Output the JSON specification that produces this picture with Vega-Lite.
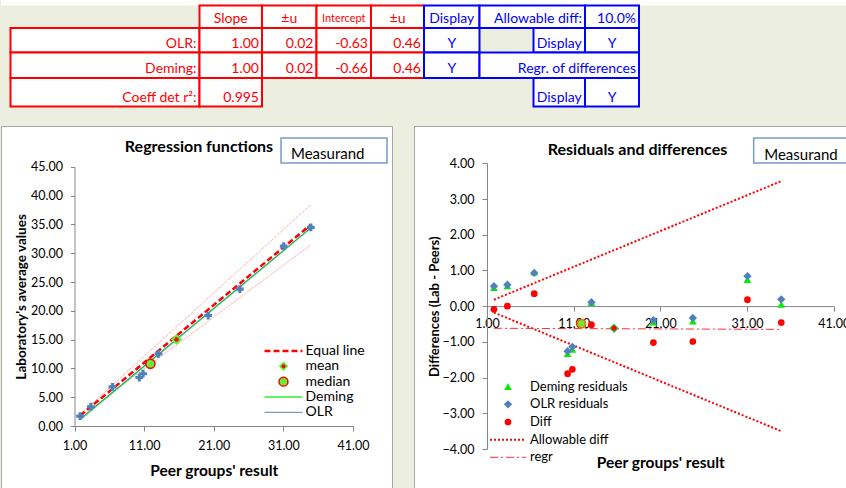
{
  "$schema": "https://vega.github.io/schema/vega-lite/v6.json",
  "background": "#ECEFE0",
  "padding": 0,
  "bounds": "flush",
  "spacing": 0,
  "config": {
    "font": "Lato",
    "view": {"stroke": null},
    "axis": {"labelFont": "Lato", "titleFont": "Lato"},
    "title": {"font": "Lato"},
    "text": {"font": "Lato"}
  },
  "datasets": {
    "strip": [{"c0": 0, "c1": 11, "r0": 0, "r1": 1}],
    "cells": [
      {"c0": 2, "c1": 3, "r0": 1, "r1": 2, "part": "regression"},
      {"c0": 3, "c1": 4, "r0": 1, "r1": 2, "part": "regression"},
      {"c0": 4, "c1": 5, "r0": 1, "r1": 2, "part": "regression"},
      {"c0": 5, "c1": 6, "r0": 1, "r1": 2, "part": "regression"},
      {"c0": 1, "c1": 2, "r0": 2, "r1": 3, "part": "regression"},
      {"c0": 2, "c1": 3, "r0": 2, "r1": 3, "part": "regression"},
      {"c0": 3, "c1": 4, "r0": 2, "r1": 3, "part": "regression"},
      {"c0": 4, "c1": 5, "r0": 2, "r1": 3, "part": "regression"},
      {"c0": 5, "c1": 6, "r0": 2, "r1": 3, "part": "regression"},
      {"c0": 1, "c1": 2, "r0": 3, "r1": 4, "part": "regression"},
      {"c0": 2, "c1": 3, "r0": 3, "r1": 4, "part": "regression"},
      {"c0": 3, "c1": 4, "r0": 3, "r1": 4, "part": "regression"},
      {"c0": 4, "c1": 5, "r0": 3, "r1": 4, "part": "regression"},
      {"c0": 5, "c1": 6, "r0": 3, "r1": 4, "part": "regression"},
      {"c0": 1, "c1": 2, "r0": 4, "r1": 5, "part": "regression"},
      {"c0": 2, "c1": 3, "r0": 4, "r1": 5, "part": "regression"},
      {"c0": 6, "c1": 7, "r0": 1, "r1": 2, "part": "display"},
      {"c0": 7, "c1": 9, "r0": 1, "r1": 2, "part": "display"},
      {"c0": 9, "c1": 10, "r0": 1, "r1": 2, "part": "display"},
      {"c0": 6, "c1": 7, "r0": 2, "r1": 3, "part": "display"},
      {"c0": 8, "c1": 9, "r0": 2, "r1": 3, "part": "display"},
      {"c0": 9, "c1": 10, "r0": 2, "r1": 3, "part": "display"},
      {"c0": 6, "c1": 7, "r0": 3, "r1": 4, "part": "display"},
      {"c0": 7, "c1": 10, "r0": 3, "r1": 4, "part": "display"},
      {"c0": 8, "c1": 9, "r0": 4, "r1": 5, "part": "display"},
      {"c0": 9, "c1": 10, "r0": 4, "r1": 5, "part": "display"}
    ],
    "textCenter": [
      {"t": "Slope", "c": 2.5, "r": 2, "part": "regression"},
      {"t": "±u", "c": 3.5, "r": 2, "part": "regression"},
      {"t": "±u", "c": 5.5, "r": 2, "part": "regression"},
      {"t": "Display", "c": 6.5, "r": 2, "part": "display"},
      {"t": "Y", "c": 6.5, "r": 3, "part": "display"},
      {"t": "Display", "c": 8.5, "r": 3, "part": "display"},
      {"t": "Y", "c": 9.5, "r": 3, "part": "display"},
      {"t": "Y", "c": 6.5, "r": 4, "part": "display"},
      {"t": "Display", "c": 8.5, "r": 5, "part": "display"},
      {"t": "Y", "c": 9.5, "r": 5, "part": "display"}
    ],
    "textSmall": [
      {"t": "Intercept", "c": 4.5, "r": 2, "part": "regression"}
    ],
    "textRight": [
      {"t": "OLR:", "c": 2, "r": 3, "part": "regression"},
      {"t": "1.00", "c": 3, "r": 3, "part": "regression"},
      {"t": "0.02", "c": 4, "r": 3, "part": "regression"},
      {"t": "-0.63", "c": 5, "r": 3, "part": "regression"},
      {"t": "0.46", "c": 6, "r": 3, "part": "regression"},
      {"t": "Deming:", "c": 2, "r": 4, "part": "regression"},
      {"t": "1.00", "c": 3, "r": 4, "part": "regression"},
      {"t": "0.02", "c": 4, "r": 4, "part": "regression"},
      {"t": "-0.66", "c": 5, "r": 4, "part": "regression"},
      {"t": "0.46", "c": 6, "r": 4, "part": "regression"},
      {"t": "Coeff det r²:", "c": 2, "r": 5, "part": "regression"},
      {"t": "0.995", "c": 3, "r": 5, "part": "regression"},
      {"t": "Allowable diff:", "c": 9, "r": 2, "part": "display"},
      {"t": "10.0%", "c": 10, "r": 2, "part": "display"},
      {"t": "Regr. of differences", "c": 10, "r": 4, "part": "display"}
    ],
    "obs": [
      {"peer": 1.8, "lab": 1.71, "diff": -0.09, "olr": 0.56, "deming": 0.52},
      {"peer": 3.35, "lab": 3.35, "diff": 0.0, "olr": 0.6, "deming": 0.57},
      {"peer": 6.45, "lab": 6.8, "diff": 0.35, "olr": 0.93, "deming": 0.95},
      {"peer": 10.3, "lab": 8.41, "diff": -1.89, "olr": -1.26, "deming": -1.33},
      {"peer": 10.85, "lab": 9.08, "diff": -1.77, "olr": -1.14, "deming": -1.21},
      {"peer": 13.05, "lab": 12.53, "diff": -0.52, "olr": 0.11, "deming": 0.1},
      {"peer": 20.2, "lab": 19.18, "diff": -1.02, "olr": -0.39, "deming": -0.45},
      {"peer": 24.75, "lab": 23.76, "diff": -0.99, "olr": -0.33, "deming": -0.42},
      {"peer": 31.05, "lab": 31.23, "diff": 0.18, "olr": 0.84, "deming": 0.74},
      {"peer": 34.95, "lab": 34.49, "diff": -0.46, "olr": 0.19, "deming": 0.05}
    ],
    "fitLines": [
      {"line": "Equal", "peer": 1.8, "lab": 1.8},
      {"line": "Equal", "peer": 34.95, "lab": 34.95},
      {"line": "Upper", "peer": 1.8, "lab": 1.98},
      {"line": "Upper", "peer": 34.95, "lab": 38.45},
      {"line": "Lower", "peer": 1.8, "lab": 1.62},
      {"line": "Lower", "peer": 34.95, "lab": 31.46},
      {"line": "Deming", "peer": 1.8, "lab": 1.1},
      {"line": "Deming", "peer": 34.95, "lab": 34.38},
      {"line": "OLR", "peer": 1.8, "lab": 1.19},
      {"line": "OLR", "peer": 34.95, "lab": 34.42}
    ],
    "summaryLeft": [
      {"stat": "mean", "peer": 15.65, "lab": 15.03},
      {"stat": "median", "peer": 11.9, "lab": 10.8}
    ],
    "diffLines": [
      {"line": "Upper", "peer": 1.8, "d": 0.18},
      {"line": "Upper", "peer": 34.95, "d": 3.5},
      {"line": "Lower", "peer": 1.8, "d": -0.18},
      {"line": "Lower", "peer": 34.95, "d": -3.5},
      {"line": "regr", "peer": 1.8, "d": -0.62},
      {"line": "regr", "peer": 34.95, "d": -0.65}
    ],
    "summaryRight": [
      {"stat": "mean", "peer": 15.65, "d": -0.62},
      {"stat": "median", "peer": 11.9, "d": -0.49}
    ],
    "legendLeft": [
      {"i": 0, "label": "Equal line"},
      {"i": 1, "label": "mean"},
      {"i": 2, "label": "median"},
      {"i": 3, "label": "Deming"},
      {"i": 4, "label": "OLR"}
    ],
    "legendRight": [
      {"i": 0, "label": "Deming residuals"},
      {"i": 1, "label": "OLR residuals"},
      {"i": 2, "label": "Diff"},
      {"i": 3, "label": "Allowable diff"},
      {"i": 4, "label": "regr"}
    ],
    "boxLabel": [{"label": "Measurand"}]
  },
  "vconcat": [
    {
      "width": 846,
      "height": 126,
      "view": {"stroke": null, "fill": null},
      "layer": [
        {
          "data": {"name": "strip"},
          "mark": {"type": "rect", "fill": "white", "strokeWidth": 0},
          "encoding": {
            "x": {"field": "c0", "type": "quantitative", "scale": {"domain": [0,1,2,3,4,5,6,7,8,9,10,11], "range": [0,9.5,198.5,261,315.5,370,423,478.5,532.5,584,638,846], "nice": false, "zero": false}, "axis": null},
            "x2": {"field": "c1"},
            "y": {"field": "r0", "type": "quantitative", "scale": {"domain": [0,1,2,3,4,5], "range": [0,5.5,28,52.5,78,106.5], "nice": false, "zero": false}, "axis": null},
            "y2": {"field": "r1"}
          }
        },
        {
          "data": {"name": "cells"},
          "mark": {"type": "rect", "fill": "white", "strokeWidth": 2},
          "encoding": {
            "x": {"field": "c0", "type": "quantitative", "axis": null},
            "x2": {"field": "c1"},
            "y": {"field": "r0", "type": "quantitative", "axis": null},
            "y2": {"field": "r1"},
            "stroke": {"field": "part", "type": "nominal", "scale": {"domain": ["regression", "display"], "range": ["#FF0000", "#0000FF"]}, "legend": null}
          }
        },
        {
          "data": {"name": "textCenter"},
          "mark": {"type": "text", "align": "center", "baseline": "alphabetic", "dy": -5, "fontSize": 14},
          "encoding": {
            "x": {"field": "c", "type": "quantitative", "axis": null},
            "y": {"field": "r", "type": "quantitative", "axis": null},
            "text": {"field": "t"},
            "color": {"field": "part", "type": "nominal", "scale": {"domain": ["regression", "display"], "range": ["#FF0000", "#0000FF"]}, "legend": null}
          }
        },
        {
          "data": {"name": "textSmall"},
          "mark": {"type": "text", "align": "center", "baseline": "alphabetic", "dy": -6, "fontSize": 11},
          "encoding": {
            "x": {"field": "c", "type": "quantitative", "axis": null},
            "y": {"field": "r", "type": "quantitative", "axis": null},
            "text": {"field": "t"},
            "color": {"field": "part", "type": "nominal", "legend": null}
          }
        },
        {
          "data": {"name": "textRight"},
          "mark": {"type": "text", "align": "right", "baseline": "alphabetic", "dx": -3, "dy": -5, "fontSize": 14},
          "encoding": {
            "x": {"field": "c", "type": "quantitative", "axis": null},
            "y": {"field": "r", "type": "quantitative", "axis": null},
            "text": {"field": "t"},
            "color": {"field": "part", "type": "nominal", "legend": null}
          }
        }
      ]
    },
    {
      "hconcat": [
        {
          "width": 391,
          "height": 362,
          "view": {"fill": "white", "stroke": "#A6A6A6"},
          "title": {"text": "Regression functions", "anchor": "middle", "offset": -37, "baseline": "middle", "fontSize": 16, "fontWeight": "bold", "color": "#000000", "dx": 2.5},
          "resolve": {"scale": {"x": "independent", "y": "independent"}, "axis": {"x": "independent", "y": "independent"}},
          "layer": [
            {
              "encoding": {
                "x": {"field": "peer", "type": "quantitative",
                  "scale": {"domain": [1, 41], "range": [73.5, 352], "nice": false, "zero": false},
                  "axis": {"orient": "bottom", "offset": -62, "values": [1, 11, 21, 31, 41], "format": ".2f", "grid": false, "domainColor": "#868686", "tickColor": "#868686", "tickSize": 5, "labelFontSize": 12.5, "labelColor": "#000000", "labelPadding": 8, "labelFlush": false, "labelOverlap": false, "title": "Peer groups' result", "titleFontSize": 15.5, "titleFontWeight": "bold", "titleColor": "#000000", "titleY": 44, "titleBaseline": "middle"}},
                "y": {"field": "lab", "type": "quantitative",
                  "scale": {"domain": [0, 45], "range": [300, 40.8], "nice": false, "zero": false},
                  "axis": {"orient": "left", "offset": -73.5, "values": [0, 5, 10, 15, 20, 25, 30, 35, 40, 45], "format": ".2f", "grid": false, "domainColor": "#868686", "tickColor": "#868686", "tickSize": 4, "labelFontSize": 12.5, "labelColor": "#000000", "labelPadding": 8, "labelOverlap": false, "title": "Laboratory's average values", "titleFontSize": 13.5, "titleFontWeight": "bold", "titleColor": "#000000", "titleX": -53.5, "titleBaseline": "middle"}}
              },
              "layer": [
                {
                  "data": {"name": "fitLines"},
                  "transform": [{"filter": {"field": "line", "oneOf": ["Upper", "Lower"]}}],
                  "mark": {"type": "line", "stroke": "#FF0000", "strokeWidth": 0.8, "strokeDash": [1, 1], "opacity": 0.6},
                  "encoding": {"detail": {"field": "line"}}
                },
                {
                  "data": {"name": "fitLines"},
                  "transform": [{"filter": "datum.line === 'Deming'"}],
                  "mark": {"type": "line", "stroke": "#33EE33", "strokeWidth": 1.5},
                  "encoding": {}
                },
                {
                  "data": {"name": "fitLines"},
                  "transform": [{"filter": "datum.line === 'OLR'"}],
                  "mark": {"type": "line", "stroke": "#4F81BD", "strokeWidth": 1},
                  "encoding": {}
                },
                {
                  "data": {"name": "fitLines"},
                  "transform": [{"filter": "datum.line === 'Equal'"}],
                  "mark": {"type": "line", "stroke": "#FF0000", "strokeWidth": 2.5, "strokeDash": [6, 3]},
                  "encoding": {}
                },
                {
                  "data": {"name": "obs"},
                  "mark": {"type": "point", "shape": "cross", "filled": true, "fill": "#4F81BD", "size": 60, "opacity": 1},
                  "encoding": {}
                },
                {
                  "data": {"name": "summaryLeft"},
                  "transform": [{"filter": "datum.stat === 'mean'"}],
                  "mark": {"type": "point", "shape": "diamond", "filled": true, "fill": "#66EE33", "size": 120, "opacity": 1},
                  "encoding": {}
                },
                {
                  "data": {"name": "summaryLeft"},
                  "transform": [{"filter": "datum.stat === 'mean'"}],
                  "mark": {"type": "point", "shape": "circle", "filled": true, "fill": "#FF0000", "size": 20, "opacity": 1},
                  "encoding": {}
                },
                {
                  "data": {"name": "summaryLeft"},
                  "transform": [{"filter": "datum.stat === 'median'"}],
                  "mark": {"type": "point", "shape": "circle", "filled": true, "fill": "#66EE33", "stroke": "#FF0000", "strokeWidth": 1.5, "size": 85, "opacity": 1},
                  "encoding": {}
                }
              ]
            },
            {
              "data": {"name": "legendLeft"},
              "encoding": {
                "y": {"field": "i", "type": "quantitative", "scale": {"domain": [0, 4], "range": [225, 286.3], "nice": false, "zero": false}, "axis": null}
              },
              "layer": [
                {
                  "transform": [{"filter": "datum.i === 0"}],
                  "mark": {"type": "rule", "stroke": "#FF0000", "strokeWidth": 2.5, "strokeDash": [6, 3]},
                  "encoding": {"x": {"datum": 0, "type": "quantitative", "scale": {"domain": [0, 1], "range": [263.5, 301.5], "nice": false, "zero": false}, "axis": null}, "x2": {"datum": 1}}
                },
                {
                  "transform": [{"filter": "datum.i === 1"}],
                  "mark": {"type": "point", "shape": "diamond", "filled": true, "fill": "#66EE33", "size": 90, "opacity": 1},
                  "encoding": {"x": {"datum": 0.5, "type": "quantitative"}}
                },
                {
                  "transform": [{"filter": "datum.i === 1"}],
                  "mark": {"type": "point", "shape": "circle", "filled": true, "fill": "#FF0000", "size": 16, "opacity": 1},
                  "encoding": {"x": {"datum": 0.5, "type": "quantitative"}}
                },
                {
                  "transform": [{"filter": "datum.i === 2"}],
                  "mark": {"type": "point", "shape": "circle", "filled": true, "fill": "#66EE33", "stroke": "#FF0000", "strokeWidth": 1.5, "size": 80, "opacity": 1},
                  "encoding": {"x": {"datum": 0.5, "type": "quantitative"}}
                },
                {
                  "transform": [{"filter": "datum.i === 3"}],
                  "mark": {"type": "rule", "stroke": "#33EE33", "strokeWidth": 1.5},
                  "encoding": {"x": {"datum": 0, "type": "quantitative"}, "x2": {"datum": 1}}
                },
                {
                  "transform": [{"filter": "datum.i === 4"}],
                  "mark": {"type": "rule", "stroke": "#4F81BD", "strokeWidth": 1},
                  "encoding": {"x": {"datum": 0, "type": "quantitative"}, "x2": {"datum": 1}}
                },
                {
                  "mark": {"type": "text", "align": "left", "baseline": "middle", "dx": 3, "fontSize": 14, "color": "#000000"},
                  "encoding": {"x": {"datum": 1, "type": "quantitative"}, "text": {"field": "label"}}
                }
              ]
            },
            {
              "data": {"name": "boxLabel"},
              "layer": [
                {
                  "mark": {"type": "rect", "fill": "white", "stroke": "#7A9CCB", "strokeWidth": 1.5},
                  "encoding": {
                    "x": {"datum": 0, "type": "quantitative", "scale": {"domain": [0, 1], "range": [280, 386], "nice": false, "zero": false}, "axis": null},
                    "x2": {"datum": 1},
                    "y": {"datum": 0, "type": "quantitative", "scale": {"domain": [0, 1], "range": [12, 37], "nice": false, "zero": false}, "axis": null},
                    "y2": {"datum": 1}
                  }
                },
                {
                  "mark": {"type": "text", "align": "left", "baseline": "middle", "dx": 10, "fontSize": 15, "color": "#000000"},
                  "encoding": {
                    "x": {"datum": 0, "type": "quantitative"},
                    "y": {"datum": 0.62, "type": "quantitative"},
                    "text": {"field": "label"}
                  }
                }
              ]
            }
          ]
        },
        {
          "width": 433,
          "height": 362,
          "view": {"fill": "white", "stroke": "#A6A6A6"},
          "title": {"text": "Residuals and differences", "anchor": "middle", "offset": -40, "baseline": "middle", "fontSize": 16, "fontWeight": "bold", "color": "#000000", "dx": 7},
          "resolve": {"scale": {"x": "independent", "y": "independent"}, "axis": {"x": "independent", "y": "independent"}},
          "layer": [
            {
              "encoding": {
                "x": {"field": "peer", "type": "quantitative",
                  "scale": {"domain": [1, 41], "range": [73, 419.7], "nice": false, "zero": false},
                  "axis": {"orient": "bottom", "offset": -181.9, "values": [1, 11, 21, 31, 41], "format": ".2f", "grid": false, "domainColor": "#868686", "tickColor": "#868686", "tickSize": 5, "labelFontSize": 12.5, "labelColor": "#000000", "labelPadding": 6, "labelFlush": false, "labelOverlap": false, "title": "Peer groups' result", "titleFontSize": 15.5, "titleFontWeight": "bold", "titleColor": "#000000", "titleY": 156.6, "titleBaseline": "middle"}}
              },
              "layer": [
                {
                  "data": {"name": "diffLines"},
                  "transform": [{"filter": {"field": "line", "oneOf": ["Upper", "Lower"]}}],
                  "mark": {"type": "line", "stroke": "#FF0000", "strokeWidth": 2, "strokeDash": [2, 2]},
                  "encoding": {
                    "y": {"field": "d", "type": "quantitative",
                      "scale": {"domain": [-4, 4], "range": [323, 37.3], "nice": false, "zero": false},
                      "axis": {"orient": "left", "offset": -73, "values": [-4, -3, -2, -1, 0, 1, 2, 3, 4], "format": ".2f", "grid": false, "domainColor": "#868686", "tickColor": "#868686", "tickSize": 5, "labelFontSize": 12.5, "labelColor": "#000000", "labelPadding": 8, "labelOverlap": false, "title": "Differences (Lab - Peers)", "titleFontSize": 13, "titleFontWeight": "bold", "titleColor": "#000000", "titleX": -53, "titleBaseline": "middle"}},
                    "detail": {"field": "line"}
                  }
                },
                {
                  "data": {"name": "diffLines"},
                  "transform": [{"filter": "datum.line === 'regr'"}],
                  "mark": {"type": "line", "stroke": "#FF3030", "strokeWidth": 1, "strokeDash": [8, 3, 2, 3]},
                  "encoding": {"y": {"field": "d", "type": "quantitative", "scale": {"domain": [-4, 4], "range": [323, 37.3], "nice": false, "zero": false}}}
                },
                {
                  "data": {"name": "obs"},
                  "mark": {"type": "point", "shape": "triangle-up", "filled": true, "fill": "#00EE00", "size": 60, "opacity": 1},
                  "encoding": {"y": {"field": "deming", "type": "quantitative", "scale": {"domain": [-4, 4], "range": [323, 37.3], "nice": false, "zero": false}}}
                },
                {
                  "data": {"name": "obs"},
                  "mark": {"type": "point", "shape": "diamond", "filled": true, "fill": "#4F81BD", "size": 70, "opacity": 1},
                  "encoding": {"y": {"field": "olr", "type": "quantitative", "scale": {"domain": [-4, 4], "range": [323, 37.3], "nice": false, "zero": false}}}
                },
                {
                  "data": {"name": "obs"},
                  "mark": {"type": "point", "shape": "circle", "filled": true, "fill": "#FF0000", "size": 45, "opacity": 1},
                  "encoding": {"y": {"field": "diff", "type": "quantitative", "scale": {"domain": [-4, 4], "range": [323, 37.3], "nice": false, "zero": false}}}
                },
                {
                  "data": {"name": "summaryRight"},
                  "transform": [{"filter": "datum.stat === 'mean'"}],
                  "mark": {"type": "point", "shape": "diamond", "filled": true, "fill": "#33BB33", "size": 90, "opacity": 1},
                  "encoding": {"y": {"field": "d", "type": "quantitative", "scale": {"domain": [-4, 4], "range": [323, 37.3], "nice": false, "zero": false}}}
                },
                {
                  "data": {"name": "summaryRight"},
                  "transform": [{"filter": "datum.stat === 'mean'"}],
                  "mark": {"type": "point", "shape": "circle", "filled": true, "fill": "#FF0000", "size": 24, "opacity": 1},
                  "encoding": {"y": {"field": "d", "type": "quantitative", "scale": {"domain": [-4, 4], "range": [323, 37.3], "nice": false, "zero": false}}}
                },
                {
                  "data": {"name": "summaryRight"},
                  "transform": [{"filter": "datum.stat === 'median'"}],
                  "mark": {"type": "point", "shape": "circle", "filled": true, "fill": "#66EE33", "stroke": "#FF6600", "strokeWidth": 1.5, "size": 70, "opacity": 1},
                  "encoding": {"y": {"field": "d", "type": "quantitative", "scale": {"domain": [-4, 4], "range": [323, 37.3], "nice": false, "zero": false}}}
                }
              ]
            },
            {
              "data": {"name": "legendRight"},
              "encoding": {
                "y": {"field": "i", "type": "quantitative", "scale": {"domain": [0, 4], "range": [260.7, 331.3], "nice": false, "zero": false}, "axis": null}
              },
              "layer": [
                {
                  "transform": [{"filter": "datum.i === 0"}],
                  "mark": {"type": "point", "shape": "triangle-up", "filled": true, "fill": "#00EE00", "size": 60, "opacity": 1},
                  "encoding": {"x": {"datum": 0.5, "type": "quantitative", "scale": {"domain": [0, 1], "range": [76, 112], "nice": false, "zero": false}, "axis": null}}
                },
                {
                  "transform": [{"filter": "datum.i === 1"}],
                  "mark": {"type": "point", "shape": "diamond", "filled": true, "fill": "#4F81BD", "size": 70, "opacity": 1},
                  "encoding": {"x": {"datum": 0.5, "type": "quantitative"}}
                },
                {
                  "transform": [{"filter": "datum.i === 2"}],
                  "mark": {"type": "point", "shape": "circle", "filled": true, "fill": "#FF0000", "size": 45, "opacity": 1},
                  "encoding": {"x": {"datum": 0.5, "type": "quantitative"}}
                },
                {
                  "transform": [{"filter": "datum.i === 3"}],
                  "mark": {"type": "rule", "stroke": "#FF0000", "strokeWidth": 2, "strokeDash": [2, 2]},
                  "encoding": {"x": {"datum": 0, "type": "quantitative"}, "x2": {"datum": 1}}
                },
                {
                  "transform": [{"filter": "datum.i === 4"}],
                  "mark": {"type": "rule", "stroke": "#FF3030", "strokeWidth": 1, "strokeDash": [8, 3, 2, 3]},
                  "encoding": {"x": {"datum": 0, "type": "quantitative"}, "x2": {"datum": 1}}
                },
                {
                  "mark": {"type": "text", "align": "left", "baseline": "middle", "dx": 4, "fontSize": 13, "color": "#000000"},
                  "encoding": {"x": {"datum": 1, "type": "quantitative"}, "text": {"field": "label"}}
                }
              ]
            },
            {
              "data": {"name": "boxLabel"},
              "layer": [
                {
                  "mark": {"type": "rect", "fill": "white", "stroke": "#7A9CCB", "strokeWidth": 1.5},
                  "encoding": {
                    "x": {"datum": 0, "type": "quantitative", "scale": {"domain": [0, 1], "range": [339.7, 436], "nice": false, "zero": false}, "axis": null},
                    "x2": {"datum": 1},
                    "y": {"datum": 0, "type": "quantitative", "scale": {"domain": [0, 1], "range": [12, 37], "nice": false, "zero": false}, "axis": null},
                    "y2": {"datum": 1}
                  }
                },
                {
                  "mark": {"type": "text", "align": "left", "baseline": "middle", "dx": 10.5, "fontSize": 15, "color": "#000000"},
                  "encoding": {
                    "x": {"datum": 0, "type": "quantitative"},
                    "y": {"datum": 0.66, "type": "quantitative"},
                    "text": {"field": "label"}
                  }
                }
              ]
            }
          ]
        }
      ],
      "spacing": 22,
      "bounds": "flush"
    }
  ]
}
